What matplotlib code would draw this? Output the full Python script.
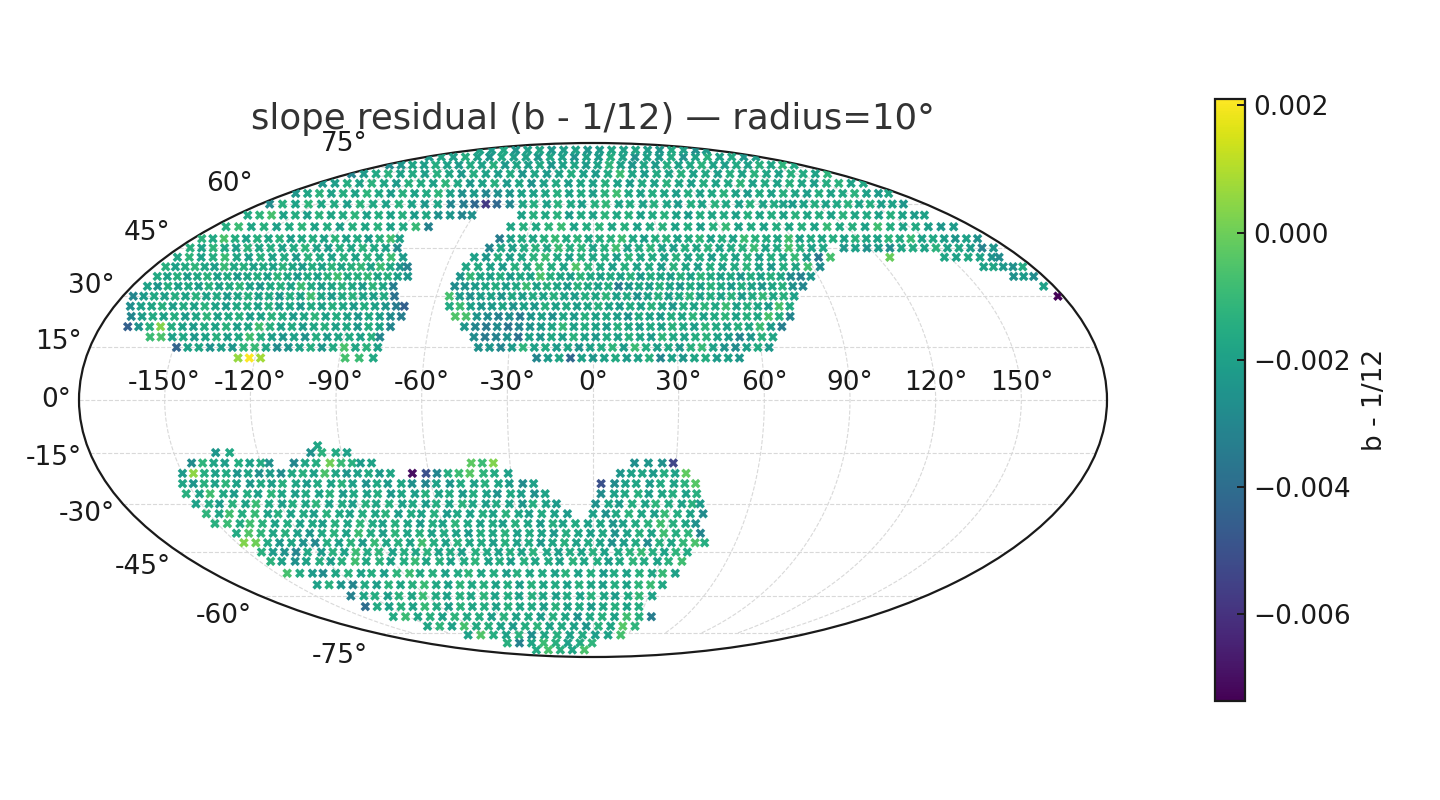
import matplotlib
matplotlib.use('Agg')
import matplotlib.pyplot as plt
import numpy as np

# each row: latitude, then lon, value pairs (value in units of 1e-4)
nw_rows = [
    (12, [-126,6, -122,21, -118,8, -88,-7, -83,-9, -78,-17]),
    (15, [-149,-44, -145,-20, -141,-18, -137,-25, -133,-21, -129,-24, -125,-12, -121,-10, -117,-18, -113,-28, -109,-25, -105,-19, -101,-15, -97,-24, -93,-16, -89,-6, -85,-18, -81,-13, -77,-20]),
    (18, [-160,-9, -156,-6, -152,-20, -148,-17, -144,-23, -140,-19, -136,-14, -132,-21, -128,-17, -124,-8, -120,-15, -116,-21, -112,-24, -108,-20, -104,-25, -100,-15, -96,-22, -92,-18, -88,-16, -84,-20, -80,-14, -77,-30]),
    (21, [-170,-45, -166,-25, -162,-14, -158,3, -154,-15, -150,-20, -146,-22, -142,-16, -138,-19, -134,-13, -130,-21, -126,-18, -122,-8, -118,-14, -114,-20, -110,-16, -106,-22, -102,-18, -98,-14, -94,-20, -90,-17, -86,-23, -82,-15, -78,-19, -74,-30]),
    (24, [-171,-30, -167,-21, -163,-16, -159,-20, -155,-15, -151,-22, -147,-18, -143,-12, -139,-20, -135,-17, -131,-14, -127,-21, -123,-19, -119,-13, -115,-16, -111,-22, -107,-18, -103,-12, -99,-20, -95,-15, -91,-19, -87,-23, -83,-17, -79,-21, -75,-28, -71,-33]),
    (27, [-174,-27, -170,-20, -166,-18, -162,-14, -158,-21, -154,-16, -150,-20, -146,-13, -142,-19, -138,-22, -134,-17, -130,-15, -126,-19, -122,-14, -118,-21, -114,-18, -110,-23, -106,-16, -102,-20, -98,-14, -94,-18, -90,-22, -86,-15, -82,-20, -78,-24, -74,-34, -71,-45]),
    (30, [-176,-30, -172,-22, -168,-17, -164,-21, -160,-15, -156,-19, -152,-13, -148,-20, -144,-16, -140,-22, -136,-18, -132,-14, -128,-20, -124,-17, -120,-23, -116,-15, -112,-19, -108,-8, -104,-18, -100,-22, -96,-16, -92,-13, -88,-19, -84,-21, -80,-16, -76,-38]),
    (33, [-174,-19, -170,-24, -166,-15, -162,-20, -158,-17, -154,-21, -150,-14, -146,-19, -142,-16, -138,-12, -134,-20, -130,-23, -126,-17, -122,-14, -118,-19, -114,-9, -110,-16, -106,-21, -102,-18, -98,-13, -94,-17, -90,-22, -86,-12, -82,-18, -78,-33]),
    (36, [-174,-16, -170,-19, -166,-14, -162,-21, -158,-17, -154,-13, -150,-20, -146,-16, -142,-22, -138,-18, -134,-15, -130,-20, -126,-12, -122,-17, -118,-22, -114,-16, -110,-19, -106,-13, -102,-8, -98,-16, -94,-14, -90,-11, -86,-18, -82,-14, -78,-20, -74,-24]),
    (39, [-175,-14, -171,-20, -167,-16, -163,-12, -159,-18, -155,-21, -151,-10, -147,-17, -143,-14, -139,-20, -135,-16, -131,-19, -127,-13, -123,-18, -119,-22, -115,-15, -111,-19, -107,-12, -103,-18, -99,-14, -95,-11, -91,-19, -87,-9, -83,-17, -79,-25, -76,-32]),
    (42, [-175,-18, -170,-12, -165,-20, -160,-15, -155,-9, -150,-18, -145,-21, -140,-14, -135,-19, -130,-16, -125,-22, -120,-13, -115,-17, -110,-20, -105,-14, -100,-19, -95,-13, -90,-17, -85,-9, -80,-22]),
    (45, [-175,-14, -170,-19, -165,-12, -160,-17, -155,-21, -150,-13, -145,-18, -140,-15, -135,-20, -130,-16, -125,-12, -120,-19, -115,-22, -110,-15, -105,-18, -100,-13, -95,-17, -90,-20, -85,-28]),
]
north_top_rows = [
    (48, [-176,-13, -171,-17, -166,-6, -161,-15, -156,-20, -151,-14, -146,-18, -141,-13, -136,-21, -131,-17, -126,-15, -121,-19, -116,-12, -111,-20, -106,-16, -101,-22, -96,-14, -91,-8, -87,-20]),
    (52, [-174,-15, -168,-9, -162,-18, -156,-14, -150,-20, -144,-16, -138,-12, -132,-19, -126,-15, -120,-21, -114,-14, -108,-18, -102,-13, -96,-20, -90,-16, -84,-10, -78,-32]),
    (56, [-174,-17, -168,-12, -162,-7, -156,-19, -150,-15, -144,-21, -138,-13, -132,-18, -126,-16, -120,-12, -114,-20, -108,-15, -102,-19, -96,-14, -90,-22, -84,-17, -78,-26, -72,-24, -66,-30, -61,-26]),
    (60, [-175,-28, -168,-14, -161,-19, -154,-12, -147,-18, -140,-16, -133,-21, -126,-13, -119,-17, -112,-20, -105,-14, -98,-19, -91,-24, -84,-18, -77,-30, -70,-34, -64,-42, -58,-58, -52,-42]),
    (64, [-175,-24, -168,-18, -161,-13, -154,-20, -147,-15, -140,-19, -133,-12, -126,-17, -119,-22, -112,-14, -105,-19, -98,-16, -91,-12, -84,-20, -77,-26, -70,-22, -63,-30, -56,-26, -49,-24, -42,-19, -35,-20]),
    (68, [-176,-24, -168,-21, -160,-15, -152,-19, -144,-13, -136,-18, -128,-22, -120,-14, -112,-16, -104,-20, -96,-12, -88,-17, -80,-23, -72,-19, -64,-14, -56,-22, -48,-18, -40,-25, -32,-20, -24,-16, -16,-21, -8,-18]),
    (72, [-178,-30, -169,-22, -160,-17, -151,-13, -142,-20, -133,-16, -124,-21, -115,-14, -106,-18, -97,-23, -88,-15, -79,-19, -70,-21, -61,-16, -52,-24, -43,-18, -34,-22, -25,-19, -16,-15, -7,-20, 2,-22, 11,-16, 20,-9]),
    (76, [-176,-28, -166,-24, -156,-18, -146,-21, -136,-15, -126,-19, -116,-22, -106,-16, -96,-20, -86,-14, -76,-23, -66,-18, -56,-21, -46,-17, -36,-24, -26,-20, -16,-18, -6,-22, 4,-19, 14,-12, 24,-20, 34,-24]),
    (80, [-176,-22, -163,-18, -150,-21, -137,-15, -124,-20, -111,-24, -98,-17, -85,-21, -72,-19, -59,-23, -46,-18, -33,-20, -20,-25, -7,-19, 6,-22, 19,-15, 32,-20, 45,-26]),
    (84, [-170,-19, -152,-22, -134,-17, -116,-24, -98,-20, -80,-18, -62,-23, -44,-21, -26,-19, -8,-24, 10,-22, 28,-18, 46,-20]),
]
center_rows = [
    (12, [-20,-30, -16,-22, -12,-18, -8,-42, -4,-20, 0,-24, 4,-20, 8,-16, 12,-22, 16,-19, 20,-14, 24,-30, 28,-20, 32,-24, 36,-18, 40,-15, 44,-22, 48,-20, 52,-24]),
    (15, [-41,-26, -37,-24, -33,-30, -29,-22, -25,-12, -21,-20, -17,-16, -13,-22, -9,-18, -5,-25, -1,-20, 3,-16, 7,-12, 11,-22, 15,-9, 19,-15, 23,-21, 27,-17, 31,-23, 35,-14, 39,-10, 43,-19, 47,-25, 51,-28, 55,-21, 59,-16, 63,-23]),
    (18, [-43,-28, -39,-35, -35,-32, -31,-26, -27,-38, -23,-20, -19,-24, -15,-17, -11,-21, -7,-13, -3,-19, 1,-23, 5,-16, 9,-20, 13,-14, 17,-18, 21,-22, 25,-12, 29,-17, 33,-20, 37,-15, 41,-13, 45,-19, 49,-22, 53,-30, 57,-24, 61,-14, 65,-18]),
    (21, [-47,-24, -43,-30, -39,-35, -35,-28, -31,-36, -27,-30, -23,-25, -19,-22, -15,-18, -11,-11, -7,-20, -3,-15, 1,-19, 5,-22, 9,-14, 13,-18, 17,-21, 21,-16, 25,-20, 29,-13, 33,-17, 37,-21, 41,-12, 45,-16, 49,-20, 53,-14, 57,-18, 61,-9, 65,-22, 69,-33]),
    (24, [-51,-5, -47,-6, -43,-24, -39,-28, -35,-32, -31,-27, -27,-34, -23,-24, -19,-20, -15,-26, -11,-18, -7,-22, -3,-14, 1,-20, 5,-17, 9,-21, 13,-25, 17,-16, 21,-19, 25,-22, 29,-15, 33,-18, 37,-12, 41,-20, 45,-16, 49,-12, 53,-19, 57,-14, 61,-17, 65,-7, 69,-15, 73,-30]),
    (27, [-54,-16, -50,-9, -46,-20, -42,-24, -38,-22, -34,-18, -30,-25, -26,-20, -22,-23, -18,-14, -14,-20, -10,-16, -6,-21, -2,-18, 2,-14, 6,-19, 10,-22, 14,-16, 18,-20, 22,-13, 26,-18, 30,-23, 34,-15, 38,-19, 42,-12, 46,-17, 50,-9, 54,-20, 58,-14, 62,-18, 66,-22, 70,-7, 74,-16]),
    (30, [-55,-7, -51,-22, -47,-26, -43,-21, -39,-19, -35,-24, -31,-17, -27,-21, -23,-16, -19,-20, -15,-14, -11,-19, -7,-22, -3,-15, 1,-18, 5,-12, 9,-20, 13,-16, 17,-25, 21,-19, 25,-14, 29,-21, 33,-17, 37,-12, 41,-20, 45,-15, 49,-19, 53,-13, 57,-22, 61,-16, 65,-11, 69,-18, 73,-14, 77,-20]),
    (33, [-54,-28, -50,-26, -46,-22, -42,-18, -38,-15, -34,-21, -30,-17, -26,-9, -22,-20, -18,-14, -14,-18, -10,-22, -6,-13, -2,-17, 2,-20, 6,-15, 10,-34, 14,-24, 18,-18, 22,-21, 26,-14, 30,-19, 34,-23, 38,-16, 42,-20, 46,-13, 50,-17, 54,-22, 58,-15, 62,-19, 66,-24, 70,-18, 74,-14, 78,-26, 82,-30]),
    (36, [-53,-24, -49,-11, -45,-18, -41,-20, -37,-15, -33,-22, -29,-17, -25,-19, -21,-6, -17,-14, -13,-18, -9,-21, -5,-12, -1,-17, 3,-20, 7,-16, 11,-19, 15,-13, 19,-22, 23,-15, 27,-18, 31,-21, 35,-14, 39,-19, 43,-12, 47,-16, 51,-20, 55,-17, 59,-23, 63,-15, 67,-19, 71,-14, 75,-18, 79,-28, 83,-32, 87,-24]),
    (39, [-52,-18, -47,-16, -42,-20, -37,-22, -32,-14, -27,-18, -22,-9, -17,-15, -12,-19, -7,-5, -2,-12, 3,-17, 8,-21, 13,-14, 18,-19, 23,-16, 28,-22, 33,-13, 38,-18, 43,-21, 48,-15, 53,-20, 58,-16, 63,-12, 68,-19, 73,-23, 78,-15, 83,-18, 88,-8, 93,-28]),
    (42, [-50,-20, -45,-24, -40,-15, -35,-21, -30,-18, -25,-13, -20,-9, -15,-17, -10,-20, -5,-14, 0,-18, 5,-15, 10,-21, 15,-12, 20,-18, 25,-16, 30,-20, 35,-14, 40,-19, 45,-16, 50,-22, 55,-15, 60,-19, 65,-13, 70,-21, 75,-15, 80,-18, 85,-10, 90,-22, 95,-36, 100,-7]),
    (45, [-45,-30, -40,-18, -35,-21, -30,-16, -25,-13, -20,-18, -15,-9, -10,-15, -5,-12, 0,-19, 5,-14, 10,-8, 15,-20, 20,-16, 25,-12, 30,-19, 35,-21, 40,-15, 45,-18, 50,-13, 55,-20, 60,-16, 65,-14, 70,-9, 75,-19, 80,-17, 85,-7, 90,-14, 95,-20, 100,-18]),
    (48, [-42,-34, -37,-20, -32,-16, -27,-18, -22,-14, -17,-10, -12,-16, -7,-12, -2,-18, 3,-15, 8,-13, 13,-9, 18,-17, 23,-21, 28,-15, 33,-13, 38,-19, 43,-16, 48,-12, 53,-20, 58,-15, 63,-19, 68,-9, 73,-13, 78,-16, 83,-18, 88,-8, 93,-20, 98,-16]),
    (52, [-39,-18, -33,-14, -27,-17, -21,-12, -15,-9, -9,-19, -3,-15, 3,-12, 9,-18, 15,-14, 21,-20, 27,-16, 33,-13, 39,-19, 45,-15, 51,-21, 57,-14, 63,-10, 69,-19, 75,-16, 81,-20, 87,-15, 93,-18]),
    (56, [-36,-19, -30,-14, -24,-17, -18,-13, -12,-22, -6,-16, 0,-19, 6,-12, 12,-17, 18,-14, 24,-20, 30,-16, 36,-13, 42,-19, 48,-22, 54,-15, 60,-18, 66,-16, 72,-20, 78,-14, 84,-18, 90,-15, 96,-19, 102,-13]),
    (60, [-45,-30, -38,-18, -32,-15, -25,-20, -19,-13, -12,-17, -6,-21, 1,-14, 7,-11, 14,-19, 20,-16, 27,-20, 33,-14, 40,-18, 46,-22, 53,-15, 59,-19, 66,-13, 72,-17, 79,-21, 85,-14, 92,-19, 98,-16, 103,-20]),
    (64, [-28,-18, -21,-14, -14,-19, -7,-16, 0,-21, 7,-13, 14,-8, 21,-17, 28,-20, 35,-15]),
]
ne_rows = [
    (30, [178,-73]),
    (33, [176,-20]),
    (36, [168,-26, 172,-22, 176,-28]),
    (39, [160,-20, 164,-18, 168,-23, 172,-26, 176,-16]),
    (42, [125,-1, 148,-18, 153,-20, 158,-17, 163,-19, 168,-25, 171,-28]),
    (45, [109,-24, 114,-20, 119,-26, 124,-22, 129,-28, 134,-18, 139,-16, 144,-19, 149,-13, 154,-20, 159,-18, 164,-22, 169,-32, 174,-24]),
    (48, [103,-18, 108,-15, 113,-20, 118,-13, 123,-18, 128,-19, 133,-12, 138,-16, 143,-10, 148,-20, 153,-17, 158,-21, 163,-24, 168,-20, 173,-26]),
    (52, [99,-14, 105,-19, 111,-10, 117,-17, 123,-14, 129,-20, 135,-8, 141,-15, 147,-19, 153,-16, 159,-21, 165,-24, 171,-22]),
    (56, [108,-18, 114,-15, 120,-19, 126,-13, 132,-18, 138,-16, 144,-20, 150,-14, 156,-19, 162,-22, 167,-20]),
    (60, [108,-22, 114,-19, 120,-15, 126,-20, 132,-17, 138,-13, 144,-19, 150,-15, 156,-21, 162,-19, 168,-24]),
    (64, [42,-18, 49,-21, 56,-15, 63,-20, 70,-17, 77,-13, 84,-19, 91,-22, 98,-16, 105,-20, 112,-14, 119,-18, 126,-21, 133,-15, 140,-19, 147,-17, 154,-13, 161,-20, 168,-22, 174,-18]),
    (68, [0,-20, 8,-14, 16,-19, 24,-22, 32,-16, 40,-20, 48,-13, 56,-18, 64,-21, 72,-15, 80,-19, 88,-17, 96,-12, 104,-20, 112,-16, 120,-19, 128,-14, 136,-18, 144,-21, 152,-15, 160,-13, 168,-19, 176,-17]),
    (72, [29,-18, 38,-22, 47,-16, 56,-19, 65,-14, 74,-20, 83,-17, 92,-21, 101,-15, 110,-19, 119,-13, 128,-18, 137,-20, 146,-14, 155,-16, 164,-19, 173,-12]),
    (76, [44,-18, 54,-22, 64,-15, 74,-20, 84,-17, 94,-13, 104,-19, 114,-21, 124,-16, 134,-20, 144,-14, 154,-18, 164,-12, 174,-17]),
    (80, [58,-19, 71,-22, 84,-16, 97,-25, 110,-19, 123,-14, 136,-20, 149,-17, 162,-24, 175,-21]),
    (84, [64,-18, 82,-21, 100,-24, 118,-17, 136,-20, 154,-26, 170,-22]),
]
south_rows = [
    (-13, [-98,-18]),
    (-15, [-135,-24, -130,-17, -101,-26, -97,-13, -92,-16, -88,-20]),
    (-18, [-145,-28, -141,-12, -137,-18, -133,-21, -128,-15, -124,-20, -120,-16, -117,-26, -108,-30, -104,-18, -100,-15, -95,0, -91,-10, -87,-14, -84,-22, -80,-19, -44,-3, -40,-9, -36,3, 15,-27, 20,-24, 25,-26, 29,-54]),
    (-21, [-150,-22, -146,5, -142,-15, -138,-20, -134,-16, -130,-24, -126,-18, -122,-26, -118,-22, -114,-28, -110,-17, -106,-14, -102,-20, -98,-6, -94,-18, -90,-24, -86,-20, -82,-16, -78,-22, -74,-18, -66,-70, -61,-50, -57,-30, -53,-15, -49,-9, -45,-4, -40,-12, -36,-16, -31,-20, 10,-24, 14,-20, 18,-18, 22,-22, 26,-15, 30,-20, 34,-2]),
    (-24, [-152,-18, -148,-24, -144,-14, -140,-20, -136,-12, -132,-19, -127,-23, -123,-17, -119,-21, -115,-14, -110,-18, -106,-22, -102,-16, -97,-19, -93,-13, -89,-20, -84,-25, -80,-17, -76,-22, -71,-18, -67,-26, -62,-30, -58,-19, -53,-24, -49,-16, -44,-20, -40,-14, -35,-18, -31,-22, -26,-28, -22,-20, 3,-50, 8,-28, 12,-20, 16,-18, 21,-22, 25,-16, 30,-19, 34,-13, 38,-4]),
    (-27, [-153,-14, -148,-19, -144,-8, -139,-17, -135,-22, -130,-15, -126,-20, -121,-12, -117,-18, -112,-21, -108,-16, -103,-19, -99,-14, -94,-22, -90,-17, -85,-20, -81,-15, -76,-23, -72,-18, -67,-21, -63,-14, -58,-19, -54,-16, -49,-22, -45,-15, -40,-19, -36,-25, -31,-17, -27,-21, -22,-26, -18,-19, 3,-28, 8,-20, 12,-17, 17,-14, 21,-21, 26,-18, 30,-15, 35,-20, 39,-14]),
    (-30, [-152,-20, -147,-16, -143,-22, -138,-13, -133,-19, -129,-9, -124,-17, -119,-21, -115,-15, -110,-18, -106,-12, -101,-20, -96,-16, -92,-21, -87,-14, -83,-18, -78,-15, -73,-20, -69,-17, -64,-22, -60,-15, -55,-19, -50,-13, -46,-18, -41,-21, -37,-16, -32,-20, -27,-24, -23,-15, -18,-19, -14,-22, 1,-26, 6,-18, 10,-22, 15,-15, 20,-19, 24,-12, 29,-16, 34,-20, 38,-14, 41,-22]),
    (-33, [-151,-12, -146,-18, -142,-8, -137,-15, -132,-10, -127,-19, -123,-14, -118,-20, -113,-16, -109,-21, -104,-13, -99,-17, -95,-20, -90,-15, -85,-18, -81,-13, -76,-21, -71,-16, -67,-19, -62,-14, -57,-22, -53,-17, -48,-20, -43,-15, -39,-19, -34,-13, -29,-18, -25,-21, -20,-16, -15,-20, -10,-22, 0,-20, 5,-26, 9,-17, 14,-13, 19,-18, 24,-21, 28,-10, 33,-15, 38,-19, 43,-28]),
    (-36, [-151,-14, -146,-9, -141,-16, -137,-8, -132,-13, -127,-19, -122,-15, -117,-20, -112,-17, -108,-21, -103,-14, -98,-18, -93,-12, -88,-16, -84,-20, -79,-14, -74,-18, -69,-22, -64,-15, -60,-19, -55,-12, -50,-17, -45,-20, -40,-16, -36,-21, -31,-14, -26,-18, -21,-22, -16,-15, -12,-19, -7,-16, -2,-20, 3,-18, 8,-24, 12,-20, 17,-16, 22,-13, 27,-8, 32,-14, 37,-18, 41,-26]),
    (-39, [-146,-16, -141,-5, -136,-12, -131,-18, -126,-14, -121,-20, -116,-24, -111,-17, -106,-13, -101,-19, -96,-9, -91,-16, -86,-21, -81,-12, -76,-18, -71,-14, -66,-20, -61,-16, -56,-19, -51,-22, -46,-15, -41,-18, -36,-13, -31,-20, -26,-16, -21,-19, -16,-23, -11,-15, -6,-18, -1,-21, 4,-17, 9,-25, 14,-19, 19,-14, 24,-19, 29,-8, 34,-15, 39,-12, 44,-30]),
    (-42, [-147,3, -142,0, -137,-16, -132,-23, -127,-18, -122,-25, -117,-29, -112,-15, -107,-20, -102,-13, -97,-22, -92,-10, -87,-18, -82,-14, -77,-19, -72,-8, -67,-15, -62,-20, -57,-13, -52,-18, -47,-16, -42,-21, -37,-14, -32,-19, -27,-16, -22,-23, -17,-18, -12,-14, -7,-20, -2,-16, 3,-19, 8,-26, 13,-21, 18,-16, 23,-28, 28,-14, 33,-18, 38,-11, 43,-6, 47,-15]),
    (-45, [-144,-14, -139,-22, -134,-25, -129,-30, -124,-17, -118,-22, -113,-14, -108,-19, -103,-9, -98,-16, -93,-12, -87,-20, -82,-15, -77,-18, -72,-13, -67,-19, -62,-16, -57,-21, -51,-14, -46,-17, -41,-20, -36,-15, -31,-19, -26,-13, -20,-18, -15,-21, -10,-16, -5,-19, 0,-14, 5,-20, 11,-17, 16,-13, 21,-10, 26,-15, 31,-19, 36,-12, 41,-16]),
    (-48, [-145,-13, -140,-20, -134,-26, -129,-19, -123,-15, -118,-21, -113,-14, -107,-8, -102,-17, -96,-13, -91,-19, -85,-15, -80,-10, -75,-18, -69,-14, -64,-20, -58,-16, -53,-12, -47,-19, -42,-15, -37,-21, -31,-14, -26,-18, -20,-16, -15,-20, -9,-13, -4,-18, 2,-15, 7,-21, 12,-17, 18,-12, 23,-16, 29,-19, 34,-13, 40,-8]),
    (-52, [-145,-7, -139,-16, -133,-22, -128,-28, -122,-18, -116,-13, -110,-19, -105,-15, -99,-21, -93,-12, -87,-9, -82,-17, -76,-14, -70,-20, -64,-16, -59,-12, -53,-18, -47,-15, -41,-21, -36,-14, -30,-18, -24,-16, -18,-20, -13,-13, -7,-19, -1,-15, 5,-22, 10,-16, 16,-19, 22,-14, 28,-18, 33,-10, 39,-20]),
    (-56, [-139,-20, -133,-14, -127,-24, -121,-30, -115,-16, -109,-21, -103,-13, -97,-18, -91,-14, -85,-9, -79,-17, -73,-20, -67,-12, -61,-17, -55,-14, -49,-19, -43,-15, -37,-21, -31,-13, -25,-18, -19,-16, -13,-20, -7,-14, -1,-18, 5,-21, 11,-15, 17,-19, 23,-12, 29,-9, 35,-17]),
    (-60, [-131,-32, -124,-18, -118,-15, -111,-21, -105,-13, -98,-18, -92,-9, -85,-16, -79,-20, -72,-14, -66,-18, -59,-12, -53,-19, -46,-15, -40,-20, -33,-14, -27,-18, -20,-21, -14,-16, -7,-19, -1,-13, 6,-18, 12,-22, 19,-16, 25,-11, 32,-19]),
    (-64, [-134,-40, -127,-16, -120,-20, -113,-14, -106,-19, -99,-10, -92,-16, -85,-21, -78,-13, -71,-18, -64,-15, -57,-20, -50,-14, -43,-18, -36,-16, -29,-21, -22,-13, -15,-19, -8,-16, -1,-22, 6,-18, 13,-14, 20,-19, 27,-15]),
    (-68, [-130,-16, -122,-9, -114,-18, -106,-14, -98,-20, -90,-12, -82,-17, -74,-15, -66,-21, -58,-13, -50,-19, -42,-16, -34,-22, -26,-14, -18,-18, -10,-25, -2,-17, 6,-14, 14,-19, 22,-8, 30,-14, 38,-34]),
    (-72, [-122,-18, -113,-12, -104,-20, -95,-7, -86,-16, -77,-14, -68,-19, -59,-22, -50,-15, -41,-12, -32,-19, -23,-16, -14,-20, -5,-24, 4,-13, 13,-18, 22,-4, 31,-12]),
    (-76, [-108,-20, -97,-5, -86,-15, -75,-19, -64,-13, -53,-27, -42,-18, -31,-14, -20,-20, -9,-16, 2,-21, 13,-19, 24,-7]),
    (-80, [-92,-14, -79,-32, -66,-18, -53,-9, -40,-14, -27,-20, -14,-16, -1,-12]),
    (-84, [-85,-16, -67,-7, -49,-14, -31,-18, -13,-6]),
]

all_rows = nw_rows + north_top_rows + center_rows + ne_rows + south_rows

lons, lats, vals = [], [], []
for lat, pairs in all_rows:
    for i in range(0, len(pairs), 2):
        lons.append(pairs[i])
        lats.append(lat)
        vals.append(pairs[i + 1] * 1e-4)

fig = plt.figure(figsize=(7.2, 4), dpi=200)
ax = fig.add_axes([78 / 1440, 143 / 800, 1030 / 1440, 514 / 800], projection='mollweide')
sc = ax.scatter(np.radians(lons), np.radians(lats), c=vals, cmap='viridis', marker='X', s=12,
                linewidths=0, vmin=-0.00736, vmax=0.0021, zorder=3)
ax.grid(True, color='#d9d9d9', linestyle='--', linewidth=0.4)
ax.tick_params(labelsize=9.5, labelcolor='#1a1a1a')
ax.set_title('slope residual (b - 1/12) \u2014 radius=10\u00b0', fontsize=12.8, color='#333333', pad=5)
for spine in ax.spines.values():
    spine.set_edgecolor('#1a1a1a')
    spine.set_linewidth(0.8)

cax = fig.add_axes([1215 / 1440, 99 / 800, 30 / 1440, 602 / 800])
cb = fig.colorbar(sc, cax=cax)
cb.set_ticks([-0.006, -0.004, -0.002, 0.0, 0.002])
cb.ax.tick_params(labelsize=9.5, direction='in', length=3, width=0.7, color='#1a1a1a', labelcolor='#1a1a1a', pad=3)
cb.set_label('b - 1/12', fontsize=9.5, color='#1a1a1a')
cb.outline.set_edgecolor('#1a1a1a')
cb.outline.set_linewidth(0.8)

plt.savefig('out.png', dpi=200)
plt.close()
